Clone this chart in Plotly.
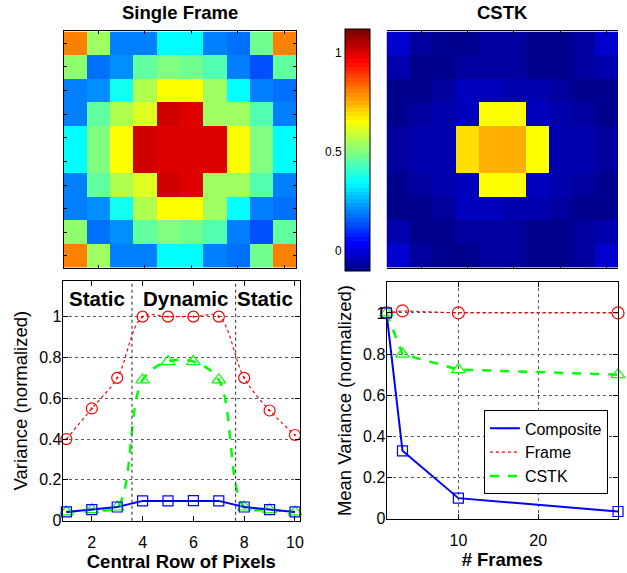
import math
import plotly.graph_objects as go

# ---------------- data ----------------
# Single-frame variance map (10 x 10 pixels, rows top to bottom)
frame_rows_top = [
    [0.80, 0.54, 0.20, 0.20, 0.36, 0.36, 0.20, 0.19, 0.48, 0.80],
    [0.52, 0.18, 0.22, 0.47, 0.51, 0.49, 0.45, 0.21, 0.15, 0.47],
    [0.20, 0.22, 0.37, 0.56, 0.65, 0.65, 0.54, 0.36, 0.20, 0.19],
    [0.20, 0.47, 0.56, 0.61, 1.01, 0.99, 0.54, 0.53, 0.45, 0.20],
    [0.36, 0.51, 0.65, 1.01, 0.99, 0.99, 0.99, 0.65, 0.50, 0.36],
]
frame_map = frame_rows_top + frame_rows_top[::-1]

# CSTK variance map (10 x 10 pixels)
cstk_rows_top = [
    [-0.006, -0.062, -0.081, -0.081, -0.062, -0.062, -0.081, -0.081, -0.062, -0.006],
    [-0.043, -0.081, -0.081, -0.062, -0.062, -0.062, -0.081, -0.081, -0.062, -0.043],
    [-0.081, -0.081, -0.062, -0.024, -0.024, -0.043, -0.043, -0.062, -0.081, -0.081],
    [-0.081, -0.062, -0.043, -0.024, 0.650, 0.650, -0.024, -0.043, -0.062, -0.081],
    [-0.062, -0.043, -0.043, 0.690, 0.745, 0.745, 0.650, -0.043, -0.043, -0.062],
]
cstk_map = cstk_rows_top + cstk_rows_top[::-1]

pixel_idx = list(range(1, 11))
color_limits = [-0.09, 1.11]
colorbar_ticks = [0, 0.5, 1]
colorbar_ticktext = ["0", "0.5", "1"]

# Variance along the central row of pixels
row_pixels = list(range(1, 11))
row_composite = [0.043, 0.054, 0.067, 0.097, 0.097, 0.098, 0.097, 0.067, 0.054, 0.043]
row_frame = [0.40, 0.55, 0.70, 1.00, 1.00, 1.00, 1.00, 0.70, 0.54, 0.42]
row_cstk = [0.043, 0.054, 0.067, 0.69, 0.78, 0.78, 0.69, 0.067, 0.054, 0.043]
region_bounds = [3.58, 7.66]
region_labels = ["Static", "Dynamic", "Static"]
region_label_x = [2.22, 5.69, 8.82]

# Mean variance versus number of frames
n_frames = [1, 3, 10, 30]
mean_composite = [1.0, 0.33, 0.10, 0.035]
mean_frame = [1.0, 1.01, 1.0, 1.0]
mean_cstk = [1.0, 0.80, 0.725, 0.70]

# ---------------- style helpers ----------------
W, H = 627, 573
FONT = "Liberation Sans"
BLUE, RED, GREEN = "rgb(0,0,255)", "rgb(255,0,0)", "rgb(0,255,0)"


def xdom(left, right):
    return [left / W, right / W]


def ydom(top, bottom):
    return [1 - bottom / H, 1 - top / H]


def merged(*parts, **extra):
    out = {}
    for p in parts:
        out.update(p)
    out.update(extra)
    return out


def jet(m=64):
    """MATLAB-style jet colormap with m entries."""
    n = math.ceil(m / 4)
    u = [i / n for i in range(1, n + 1)] + [1.0] * (n - 1) + [i / n for i in range(n, 0, -1)]
    g0 = math.ceil(n / 2) - (1 if m % 4 == 1 else 0)
    g = [g0 + k for k in range(1, len(u) + 1)]
    r = [v + n for v in g]
    b = [v - n for v in g]
    g = [v for v in g if v <= m]
    r = [v for v in r if v <= m]
    b = [v for v in b if v >= 1]
    J = [[0.0, 0.0, 0.0] for _ in range(m)]
    for i, idx in enumerate(r):
        J[idx - 1][0] = u[i]
    for i, idx in enumerate(g):
        J[idx - 1][1] = u[i]
    tail = u[len(u) - len(b):]
    for i, idx in enumerate(b):
        J[idx - 1][2] = tail[i]
    return J


jet_cols = jet(64)
jet_scale = []
for k, (rr, gg, bb) in enumerate(jet_cols):
    c = f"rgb({round(rr * 255)},{round(gg * 255)},{round(bb * 255)})"
    jet_scale.append([k / 64, c])
    jet_scale.append([(k + 1) / 64, c])

fig = go.Figure()

# ---------------- heatmaps ----------------
fig.add_trace(go.Heatmap(z=frame_map, x=pixel_idx, y=pixel_idx, coloraxis="coloraxis",
                         xaxis="x", yaxis="y", hoverinfo="skip"))
fig.add_trace(go.Heatmap(z=cstk_map, x=pixel_idx, y=pixel_idx, coloraxis="coloraxis",
                         xaxis="x2", yaxis="y2", hoverinfo="skip"))

# axis carrying the colorbar tick labels (left of the bar)
fig.add_trace(go.Scatter(x=[], y=[], xaxis="x5", yaxis="y5", showlegend=False))

# ---------------- central row profile ----------------
fig.add_trace(go.Scatter(x=row_pixels, y=row_frame, mode="lines", line_shape="spline",
                         line=dict(color=RED, width=1.2, dash="dot"),
                         xaxis="x3", yaxis="y3", showlegend=False))
fig.add_trace(go.Scatter(x=row_pixels, y=row_cstk, mode="lines", line_shape="spline",
                         line=dict(color=GREEN, width=2.5, dash="dash"),
                         xaxis="x3", yaxis="y3", showlegend=False))
fig.add_trace(go.Scatter(x=row_pixels, y=row_composite, mode="lines",
                         line=dict(color=BLUE, width=2),
                         xaxis="x3", yaxis="y3", showlegend=False))
fig.add_trace(go.Scatter(x=row_pixels, y=row_frame, mode="markers",
                         marker=dict(symbol="circle-open-dot", size=11, color=RED, line=dict(width=1.2)),
                         xaxis="x3", yaxis="y3", showlegend=False, cliponaxis=False))
fig.add_trace(go.Scatter(x=row_pixels, y=row_cstk, mode="markers",
                         marker=dict(symbol="triangle-up-open", size=12, color=GREEN, line=dict(width=1.2)),
                         xaxis="x3", yaxis="y3", showlegend=False, cliponaxis=False))
fig.add_trace(go.Scatter(x=row_pixels, y=row_composite, mode="markers",
                         marker=dict(symbol="square-open", size=10, color=BLUE, line=dict(width=1.2)),
                         xaxis="x3", yaxis="y3", showlegend=False, cliponaxis=False))

# ---------------- mean variance vs frames ----------------
fig.add_trace(go.Scatter(x=n_frames, y=mean_composite, mode="lines", name="Composite",
                         line=dict(color=BLUE, width=2), xaxis="x4", yaxis="y4"))
fig.add_trace(go.Scatter(x=n_frames, y=mean_frame, mode="lines", name="Frame",
                         line=dict(color=RED, width=1.2, dash="dot"), xaxis="x4", yaxis="y4"))
fig.add_trace(go.Scatter(x=n_frames, y=mean_cstk, mode="lines", name="CSTK",
                         line=dict(color=GREEN, width=2.5, dash="dash"), xaxis="x4", yaxis="y4"))
fig.add_trace(go.Scatter(x=n_frames, y=mean_frame, mode="markers",
                         marker=dict(symbol="circle-open", size=12, color=RED, line=dict(width=1.2)),
                         xaxis="x4", yaxis="y4", showlegend=False, cliponaxis=False))
fig.add_trace(go.Scatter(x=n_frames, y=mean_cstk, mode="markers",
                         marker=dict(symbol="triangle-up-open", size=12, color=GREEN, line=dict(width=1.2)),
                         xaxis="x4", yaxis="y4", showlegend=False, cliponaxis=False))
fig.add_trace(go.Scatter(x=n_frames, y=mean_composite, mode="markers",
                         marker=dict(symbol="square-open", size=10, color=BLUE, line=dict(width=1.2)),
                         xaxis="x4", yaxis="y4", showlegend=False, cliponaxis=False))

# ---------------- layout ----------------
box = dict(showline=True, linecolor="black", linewidth=1, mirror="ticks",
           ticks="inside", tickcolor="black", zeroline=False)
img_axis = merged(box, showticklabels=False, ticklen=3, showgrid=False)
tickfont = dict(family=FONT, size=16, color="black")
grid = dict(showgrid=True, gridcolor="rgb(90,90,90)", griddash="dot", gridwidth=1)
xlab = dict(ticklabelstandoff=7)
ylab = dict(ticklabelstandoff=-3)

fig.update_layout(
    width=W, height=H, margin=dict(l=0, r=0, t=0, b=0),
    paper_bgcolor="white", plot_bgcolor="white",
    font=dict(family=FONT, color="black"),
    coloraxis=dict(
        colorscale=jet_scale, cmin=color_limits[0], cmax=color_limits[1],
        colorbar=dict(x=347 / W, xanchor="left", thickness=25, thicknessmode="pixels",
                      len=242, lenmode="pixels", y=1 - 152 / H, yanchor="middle",
                      outlinecolor="black", outlinewidth=1, showticklabels=False,
                      ticks="", xpad=0, ypad=0),
    ),
    xaxis=merged(img_axis, domain=xdom(64, 298), range=[0.5, 10.5], tickvals=[2, 4, 6, 8, 10]),
    yaxis=merged(img_axis, domain=ydom(32, 272), range=[10.5, 0.5], tickvals=pixel_idx),
    xaxis2=merged(img_axis, domain=xdom(389, 622), range=[0.5, 10.5], tickvals=[2, 4, 6, 8, 10]),
    yaxis2=merged(img_axis, domain=ydom(32, 272), range=[10.5, 0.5], tickvals=pixel_idx),
    xaxis5=dict(domain=xdom(347, 372), visible=False, range=[0, 1]),
    yaxis5=dict(domain=ydom(31, 273), range=color_limits, anchor="x5", side="left",
                tickvals=colorbar_ticks, ticktext=colorbar_ticktext, showline=False,
                showgrid=False, zeroline=False, ticks="", ticklabelstandoff=2,
                tickfont=dict(family=FONT, size=12, color="black")),
    xaxis3=merged(box, xlab, domain=xdom(63, 302), range=[0.85, 10.2], tickvals=[2, 4, 6, 8, 10],
                  ticklen=5, showgrid=False, tickfont=tickfont, anchor="y3",
                  title=dict(text="<b>Central Row of Pixels</b>", font=dict(family=FONT, size=18.5),
                             standoff=2)),
    yaxis3=merged(box, grid, ylab, domain=ydom(285, 529), range=[0, 1.177],
                  tickvals=[0, 0.2, 0.4, 0.6, 0.8, 1],
                  ticklen=5, tickfont=tickfont, anchor="x3",
                  title=dict(text="Variance (normalized)", font=dict(family=FONT, size=18.5),
                             standoff=6)),
    xaxis4=merged(box, grid, xlab, domain=xdom(389, 622), range=[1, 30], tickvals=[10, 20, 30],
                  ticklen=5, tickfont=tickfont, anchor="y4",
                  title=dict(text="<b># Frames</b>", font=dict(family=FONT, size=18.5), standoff=2)),
    yaxis4=merged(box, grid, ylab, domain=ydom(287, 527), range=[0, 1.148],
                  tickvals=[0, 0.2, 0.4, 0.6, 0.8, 1],
                  ticklen=5, tickfont=tickfont, anchor="x4",
                  title=dict(text="Mean Variance (normalized)", font=dict(family=FONT, size=18.5),
                             standoff=6)),
    legend=dict(x=487 / W, y=1 - 417 / H, xanchor="left", yanchor="top",
                bgcolor="white", bordercolor="black", borderwidth=1,
                font=dict(family=FONT, size=16, color="black"),
                tracegroupgap=0, itemwidth=30),
)

# region boundaries on the central-row profile
for xb in region_bounds:
    fig.add_shape(type="line", xref="x3", yref="y3 domain", x0=xb, x1=xb, y0=0, y1=1,
                  line=dict(color="rgb(70,70,70)", width=1.2, dash="dot"))

for label, lx in zip(region_labels, region_label_x):
    fig.add_annotation(x=lx, y=1.089, xref="x3", yref="y3", text=f"<b>{label}</b>",
                       showarrow=False, font=dict(family=FONT, size=20.5, color="black"))

# panel titles
for ax, title in (("x", "Single Frame"), ("x2", "CSTK")):
    fig.add_annotation(x=0.5, y=1 - 13 / H, xref=f"{ax} domain", yref="paper",
                       text=f"<b>{title}</b>", showarrow=False, yanchor="middle",
                       font=dict(family=FONT, size=18.5, color="black"))

fig.write_html("out.html")
